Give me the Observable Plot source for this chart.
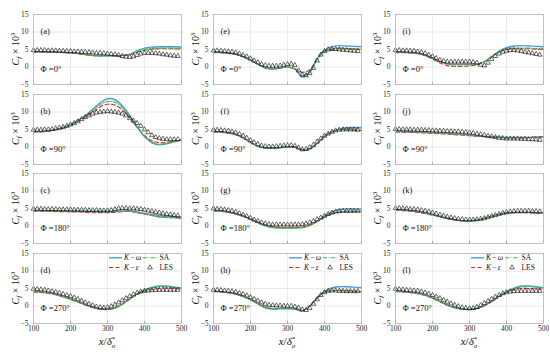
<!DOCTYPE html>
<html><head><meta charset="utf-8">
<script src="https://cdn.jsdelivr.net/npm/d3@7"></script>
<script src="https://cdn.jsdelivr.net/npm/@observablehq/plot@0.6"></script>
<style>
body{margin:0;background:#fff;}
#chart{position:relative;width:550px;height:353px;overflow:hidden;background:#fff;font-family:"Liberation Serif",serif;}
.panel{position:absolute;}
#overlay{position:absolute;left:0;top:0;pointer-events:none;}
</style></head><body><div id="chart"></div>
<script>
// ---------- data ----------
const xLine = [100,120,140,160,180,200,220,240,260,280,300,320,340,360,380,400,420,440,460,480,500];
const xLes  = [100,110,120,130,140,150,160,170,180,190,200,210,220,230,240,250,260,270,280,290,300,310,320,330,340,350,360,370,380,390,400,410,420,430,440,450,460,470,480,490];
const xTicks = [100,200,300,400,500];
const yTicks = [-5,0,5,10,15];
const seriesNames = ["K − ω","K − ε","SA","LES"];
const panelIds = ["a","b","c","d","e","f","g","h","i","j","k","l"];
const phiLabels = ["0°","90°","180°","270°"];

// (a) Phi=0, column 1
const a_kw = [4.4,4.4,4.3,4.3,4.2,4.1,3.9,3.6,3.3,3.2,3.2,3.2,3.3,3.6,4.6,5.4,5.7,5.8,5.8,5.8,5.7];
const a_ke = [4.2,4.2,4.2,4.2,4.1,4.0,3.8,3.5,3.3,3.2,3.2,3.2,3.3,3.5,4.2,4.8,5.1,5.2,5.2,5.2,5.1];
const a_sa = [4.3,4.3,4.3,4.2,4.1,4.0,3.8,3.5,3.3,3.2,3.2,3.2,3.3,3.6,4.4,5.0,5.3,5.4,5.4,5.4,5.3];
const a_les = [4.8,4.8,4.8,4.8,4.7,4.7,4.7,4.6,4.6,4.5,4.5,4.4,4.4,4.3,4.3,4.2,4.1,4.0,4.0,3.9,3.8,3.7,3.6,3.4,3.1,2.9,2.8,3.0,3.4,3.8,4.0,4.0,4.0,3.9,3.8,3.6,3.5,3.3,3.2,3.1];
// (b) Phi=90, column 1
const b_kw = [4.4,4.4,4.6,5.0,5.6,6.4,7.6,9.0,10.8,12.6,13.8,13.5,11.8,9.0,5.8,3.0,1.2,0.6,0.9,1.5,2.0];
const b_ke = [4.3,4.3,4.5,4.9,5.4,6.2,7.3,8.5,10.0,11.4,12.2,12.0,10.6,8.3,5.6,3.3,1.8,1.2,1.3,1.7,2.0];
const b_sa = [4.3,4.4,4.6,5.0,5.5,6.3,7.5,8.8,10.4,12.0,13.0,12.8,11.2,8.7,5.7,3.1,1.4,0.8,1.0,1.6,2.0];
const b_les = [4.9,4.9,4.9,5.0,5.0,5.1,5.3,5.5,5.7,6.0,6.4,6.8,7.3,7.9,8.5,9.0,9.5,9.8,10.0,10.1,10.2,10.1,10.0,9.8,9.5,9.0,8.2,7.5,6.8,6.0,5.0,4.2,3.3,2.8,2.5,2.3,2.2,2.2,2.2,2.2];
// (c) Phi=180, column 1
const c_kw = [4.4,4.4,4.4,4.4,4.3,4.3,4.3,4.2,4.2,4.2,4.2,4.2,4.3,4.3,4.0,3.6,3.3,3.0,2.8,2.7,2.6];
const c_ke = [4.2,4.2,4.2,4.1,4.1,4.0,4.0,3.9,3.8,3.8,3.8,3.9,4.1,4.2,3.8,3.4,3.0,2.6,2.5,2.4,2.3];
const c_sa = [4.3,4.3,4.3,4.3,4.2,4.2,4.2,4.1,4.1,4.0,4.0,4.1,4.2,4.2,3.9,3.4,3.0,2.6,2.4,2.3,2.1];
const c_les = [4.9,4.9,4.9,4.8,4.8,4.8,4.8,4.7,4.7,4.7,4.7,4.6,4.6,4.6,4.6,4.5,4.5,4.5,4.4,4.4,4.4,4.5,4.8,5.0,5.1,5.1,5.0,5.0,4.9,4.8,4.6,4.4,4.2,4.0,3.8,3.6,3.4,3.3,3.1,3.0];
// (d) Phi=270, column 1
const d_kw = [4.1,4.0,3.7,3.3,2.7,2.0,1.2,0.4,-0.4,-0.9,-1.0,-0.6,0.5,2.0,3.5,4.6,5.3,5.7,5.7,5.4,5.1];
const d_ke = [4.0,3.9,3.6,3.2,2.6,1.9,1.1,0.3,-0.4,-0.9,-1.0,-0.6,0.5,1.9,3.3,4.2,4.7,5.0,5.1,5.0,4.8];
const d_sa = [4.1,4.0,3.7,3.3,2.7,2.0,1.2,0.4,-0.3,-0.8,-0.9,-0.5,0.6,2.0,3.4,4.5,5.2,5.5,5.5,5.3,5.1];
const d_les = [4.9,4.8,4.7,4.6,4.4,4.2,4.0,3.7,3.4,3.1,2.8,2.4,2.0,1.5,1.0,0.6,0.2,-0.2,-0.4,-0.5,-0.4,-0.1,0.4,1.0,1.6,2.2,2.8,3.3,3.8,4.1,4.3,4.4,4.5,4.6,4.6,4.6,4.6,4.6,4.6,4.6];
// (e) Phi=0, column 2
const e_kw = [4.2,4.2,4.0,3.7,3.0,2.0,0.8,-0.3,-0.6,-0.3,0.0,-0.6,-2.9,-1.6,2.2,4.8,5.8,6.1,6.0,5.9,5.8];
const e_ke = [4.1,4.1,3.9,3.6,2.9,1.9,0.8,-0.2,-0.5,-0.3,0.0,-0.5,-1.5,-0.8,2.4,4.4,5.0,5.2,5.2,5.1,5.0];
const e_sa = [4.2,4.1,3.9,3.6,2.9,2.0,0.8,-0.3,-0.5,-0.3,0.0,-0.6,-2.4,-1.3,2.3,4.6,5.2,5.4,5.3,5.2,5.1];
const e_les = [4.7,4.7,4.6,4.5,4.4,4.3,4.1,3.8,3.4,3.0,2.4,1.8,1.3,0.8,0.5,0.3,0.3,0.3,0.4,0.6,0.8,0.9,0.5,-1.0,-2.2,-2.4,-1.8,-0.3,1.8,3.5,4.5,5.0,5.1,5.1,5.0,4.9,4.8,4.7,4.6,4.5];
// (f) Phi=90, column 2
const f_kw = [4.4,4.3,4.0,3.6,2.6,1.3,0.2,-0.3,-0.3,-0.2,0.0,0.0,-0.9,-0.6,1.0,3.0,4.4,5.1,5.5,5.6,5.6];
const f_ke = [4.3,4.2,3.9,3.5,2.6,1.3,0.2,-0.3,-0.3,-0.2,0.0,0.0,-0.8,-0.5,1.1,3.1,4.3,4.9,5.0,4.8,4.7];
const f_sa = [4.4,4.3,4.0,3.5,2.6,1.3,0.2,-0.3,-0.3,-0.2,0.0,0.0,-0.9,-0.6,1.0,3.0,4.3,4.9,5.2,5.2,5.2];
const f_les = [4.9,4.9,4.8,4.7,4.6,4.4,4.1,3.7,3.2,2.6,1.9,1.3,0.8,0.4,0.2,0.1,0.1,0.2,0.3,0.4,0.5,0.5,0.3,-0.2,-0.7,-0.6,-0.1,0.6,1.5,2.4,3.2,3.8,4.3,4.7,4.9,5.0,5.0,5.0,5.0,4.9];
// (g) Phi=180, column 2
const g_kw = [4.4,4.3,4.0,3.5,2.9,2.0,1.0,0.1,-0.4,-0.5,-0.5,-0.5,-0.4,0.2,1.3,2.8,4.0,4.7,4.9,4.9,4.8];
const g_ke = [4.3,4.2,3.9,3.5,2.9,2.0,1.1,0.3,-0.2,-0.4,-0.4,-0.4,-0.3,0.3,1.4,2.6,3.5,4.0,4.2,4.2,4.2];
const g_sa = [4.3,4.2,3.9,3.4,2.8,1.9,0.9,0.0,-0.5,-0.6,-0.6,-0.6,-0.5,0.1,1.2,2.5,3.5,4.0,4.2,4.2,4.1];
const g_les = [5.0,4.9,4.8,4.7,4.5,4.3,4.0,3.6,3.2,2.8,2.3,1.8,1.4,1.0,0.7,0.5,0.4,0.4,0.4,0.4,0.4,0.4,0.4,0.4,0.5,0.7,1.0,1.4,1.9,2.4,2.9,3.4,3.8,4.1,4.2,4.3,4.3,4.3,4.3,4.3];
// (h) Phi=270, column 2
const h_kw = [4.2,4.1,3.8,3.4,2.7,1.8,0.6,-0.5,-0.9,-0.8,-0.8,-0.9,-1.4,0.0,2.2,4.2,5.2,5.5,5.5,5.4,5.2];
const h_ke = [4.1,4.0,3.8,3.4,2.7,1.8,0.7,-0.3,-0.7,-0.7,-0.7,-0.8,-1.3,0.1,2.4,4.0,4.4,4.4,4.3,4.2,4.1];
const h_sa = [4.2,4.1,3.8,3.4,2.7,1.8,0.7,-0.3,-0.7,-0.7,-0.7,-0.8,-1.3,0.0,2.2,3.9,4.4,4.5,4.4,4.3,4.2];
const h_les = [4.6,4.6,4.5,4.4,4.3,4.2,4.0,3.7,3.4,3.0,2.5,2.0,1.5,1.0,0.6,0.3,0.2,0.1,0.1,0.0,0.0,0.0,-0.2,-0.5,-1.0,-1.2,-0.6,0.6,1.9,3.1,3.9,4.3,4.4,4.4,4.3,4.3,4.2,4.2,4.2,4.2];
// (i) Phi=0, column 3
const i_kw = [4.2,4.2,4.1,3.9,3.4,2.6,1.6,0.9,0.7,0.7,0.7,0.8,1.5,3.0,4.5,5.5,6.0,6.1,6.0,5.9,5.8];
const i_ke = [4.1,4.1,4.0,3.8,3.2,2.3,1.2,0.4,0.2,0.2,0.3,0.6,1.5,3.0,4.3,5.0,5.2,5.2,5.2,5.1,5.0];
const i_sa = [4.2,4.2,4.1,3.9,3.4,2.6,1.6,0.9,0.7,0.7,0.7,0.8,1.5,3.0,4.4,5.1,5.4,5.4,5.4,5.3,5.3];
const i_les = [4.8,4.8,4.7,4.7,4.6,4.6,4.4,4.2,3.9,3.5,3.0,2.5,2.0,1.7,1.5,1.5,1.5,1.5,1.5,1.5,1.5,1.4,1.2,0.6,0.4,1.2,2.2,3.1,3.8,4.3,4.6,4.8,4.8,4.7,4.5,4.3,4.1,3.9,3.7,3.5];
// (j) Phi=90, column 3
const j_kw = [4.4,4.4,4.3,4.3,4.2,4.1,4.0,3.9,3.7,3.6,3.4,3.2,3.0,2.9,2.8,2.7,2.7,2.7,2.7,2.8,2.8];
const j_ke = [4.3,4.2,4.2,4.1,4.0,3.9,3.8,3.7,3.5,3.4,3.2,3.1,2.9,2.8,2.7,2.6,2.6,2.6,2.7,2.9,3.0];
const j_sa = [4.4,4.4,4.3,4.3,4.2,4.1,4.0,3.9,3.7,3.6,3.4,3.2,3.0,2.9,2.8,2.7,2.7,2.7,2.7,2.8,2.8];
const j_les = [5.1,5.1,5.0,5.0,5.0,4.9,4.9,4.9,4.8,4.8,4.7,4.7,4.6,4.6,4.5,4.5,4.4,4.4,4.3,4.2,4.1,4.0,3.8,3.6,3.4,3.2,3.0,2.8,2.6,2.5,2.4,2.4,2.4,2.4,2.3,2.3,2.2,2.2,2.1,2.0];
// (k) Phi=180, column 3
const k_kw = [4.7,4.6,4.4,4.1,3.7,3.2,2.7,2.2,1.8,1.5,1.5,1.7,2.2,2.8,3.4,3.8,3.9,3.9,3.9,3.8,3.8];
const k_ke = [4.6,4.4,4.2,3.9,3.5,3.1,2.6,2.1,1.7,1.5,1.5,1.7,2.2,2.8,3.3,3.7,3.8,3.8,3.8,3.7,3.7];
const k_sa = [4.7,4.5,4.3,4.0,3.6,3.2,2.7,2.2,1.8,1.5,1.5,1.7,2.2,2.8,3.3,3.7,3.8,3.8,3.8,3.8,3.7];
const k_les = [5.1,5.1,5.0,5.0,4.9,4.8,4.7,4.5,4.3,4.1,3.8,3.5,3.2,2.9,2.6,2.4,2.2,2.0,1.9,1.8,1.8,1.8,1.9,2.0,2.2,2.5,2.8,3.1,3.4,3.7,3.9,4.1,4.2,4.3,4.3,4.3,4.3,4.2,4.2,4.1];
// (l) Phi=270, column 3
const l_kw = [4.2,4.1,3.9,3.6,3.1,2.3,1.3,0.3,-0.5,-0.9,-1.0,-0.7,0.1,1.3,2.8,4.1,5.1,5.7,5.7,5.5,5.2];
const l_ke = [4.1,4.0,3.8,3.5,3.0,2.2,1.2,0.2,-0.5,-0.9,-1.0,-0.7,0.1,1.3,2.7,3.9,4.6,5.0,5.0,4.9,4.8];
const l_sa = [4.2,4.1,3.9,3.6,3.1,2.3,1.3,0.3,-0.4,-0.8,-0.9,-0.6,0.2,1.4,2.8,4.0,4.9,5.4,5.5,5.4,5.2];
const l_les = [4.9,4.8,4.7,4.6,4.5,4.4,4.3,4.1,3.8,3.5,3.1,2.7,2.2,1.7,1.2,0.7,0.3,-0.1,-0.4,-0.6,-0.7,-0.6,-0.3,0.2,0.8,1.4,2.0,2.6,3.1,3.6,3.9,4.1,4.2,4.3,4.3,4.3,4.3,4.3,4.3,4.3];

const panelData = {
  a:[a_kw,a_ke,a_sa,a_les], b:[b_kw,b_ke,b_sa,b_les], c:[c_kw,c_ke,c_sa,c_les], d:[d_kw,d_ke,d_sa,d_les],
  e:[e_kw,e_ke,e_sa,e_les], f:[f_kw,f_ke,f_sa,f_les], g:[g_kw,g_ke,g_sa,g_les], h:[h_kw,h_ke,h_sa,h_les],
  i:[i_kw,i_ke,i_sa,i_les], j:[j_kw,j_ke,j_sa,j_les], k:[k_kw,k_ke,k_sa,k_les], l:[l_kw,l_ke,l_sa,l_les]
};

// ---------- styles / layout ----------
const FONT = "Liberation Serif";
const colors = {kw:"#4d9ad8", ke:"#e8232a", sa:"#3cb84a", les:"#1a1a1a"};
const W = 148, H = 70;
const colLeft = [33, 213, 395];
const rowTop = [14, 93.5, 173, 253];
const mL = 30, mR = 3, mT = 3, mB = 3, mBlast = 14;

const chart = document.getElementById("chart");

panelIds.forEach((id, idx) => {
  const col = Math.floor(idx / 4), row = idx % 4;
  const last = row === 3;
  const [kw, ke, sa, les] = panelData[id];
  const lines = [];
  xLine.forEach((x, i) => {
    lines.push({x, y: kw[i], s: "kw"});
    lines.push({x, y: ke[i], s: "ke"});
    lines.push({x, y: sa[i], s: "sa"});
  });
  const lesData = xLes.map((x, i) => ({x, y: les[i]}));
  const mb = last ? mBlast : mB;
  const p = Plot.plot({
    width: mL + W + mR, height: mT + H + mb,
    marginLeft: mL, marginRight: mR, marginTop: mT, marginBottom: mb,
    style: {fontFamily: FONT, fontSize: "7.5px", background: "transparent", color: "#262626", overflow: "visible"},
    x: {domain: [100, 500], label: null, axis: null},
    y: {domain: [-5, 15], label: null, axis: null},
    marks: [
      Plot.gridX(xTicks, {stroke: "#e3e3e3", strokeOpacity: 1, strokeWidth: 0.8}),
      Plot.gridY(yTicks, {stroke: "#e3e3e3", strokeOpacity: 1, strokeWidth: 0.8}),
      Plot.axisY(yTicks, {tickSize: 0, tickPadding: 5, label: null, fill: "#262626"}),
      last ? Plot.axisX(xTicks, {tickSize: 0, tickPadding: 2, label: null, fill: "#262626"}) : null,
      Plot.ruleX(xTicks, {y1: -5, y2: -4.4, stroke: "#777", strokeWidth: 0.6}),
      Plot.ruleY(yTicks, {x1: 100, x2: 103.5, stroke: "#777", strokeWidth: 0.6}),
      Plot.line(lines.filter(d => d.s === "kw"), {x: "x", y: "y", stroke: colors.kw, strokeWidth: 1.4, curve: "catmull-rom"}),
      Plot.line(lines.filter(d => d.s === "ke"), {x: "x", y: "y", stroke: colors.ke, strokeWidth: 1.1, strokeDasharray: "4,2.5", curve: "catmull-rom"}),
      Plot.line(lines.filter(d => d.s === "sa"), {x: "x", y: "y", stroke: colors.sa, strokeWidth: 1.1, strokeDasharray: "4,1.5,1,1.5", curve: "catmull-rom"}),
      Plot.dot(lesData, {x: "x", y: "y", symbol: "triangle", r: 1.75, stroke: colors.les, fill: "none", strokeWidth: 0.65}),
      Plot.frame({stroke: "#b5b5b5", strokeWidth: 0.8}),
      Plot.text([`(${id})`], {frameAnchor: "top-left", dx: 7, dy: 13, fontSize: 8.5, fill: "#111", textAnchor: "start"}),
      Plot.text([`Φ =${phiLabels[row]}`], {frameAnchor: "bottom-left", dx: 7, dy: -13, fontSize: 8.5, fill: "#111", textAnchor: "start"})
    ]
  });
  const div = document.createElement("div");
  div.className = "panel";
  div.style.left = (colLeft[col] - mL) + "px";
  div.style.top = (rowTop[row] - mT) + "px";
  div.appendChild(p);
  chart.appendChild(div);
});

// ---------- overlay: axis titles and legends ----------
const ov = d3.select(chart).append("svg").attr("id", "overlay").attr("width", 550).attr("height", 353)
  .style("font-family", FONT);

colLeft.forEach((cl, c) => {
  // y titles for each panel
  rowTop.forEach(rt => {
    const t = ov.append("text").attr("transform", `translate(${cl - 18},${rt + H / 2}) rotate(-90)`)
      .attr("text-anchor", "middle").attr("dy", "0.35em").style("font-size", "10px").attr("fill", "#111");
    t.append("tspan").attr("font-style", "italic").text("C");
    t.append("tspan").attr("font-style", "italic").style("font-size", "7px").attr("dy", 2).text("f");
    t.append("tspan").attr("dy", -2).text(" × 10");
    t.append("tspan").style("font-size", "7px").attr("dy", -4).text("3");
  });
  // x title
  const xt = ov.append("text").attr("x", cl + W / 2).attr("y", 345).attr("text-anchor", "middle")
    .style("font-size", "11px").attr("fill", "#111");
  xt.append("tspan").attr("font-style", "italic").text("x");
  xt.append("tspan").text("/");
  xt.append("tspan").attr("font-style", "italic").text("δ");
  xt.append("tspan").style("font-size", "7px").attr("dy", -4).text("*");
  xt.append("tspan").attr("font-style", "italic").style("font-size", "7px").attr("dx", -3.5).attr("dy", 7).text("o");

  // legend in bottom panel
  const g = ov.append("g").attr("transform", `translate(${cl},${rowTop[3]})`).style("font-size", "7.5px");
  const r1 = 4.8, r2 = 14.5;
  g.append("line").attr("x1", 76).attr("x2", 89).attr("y1", r1).attr("y2", r1).attr("stroke", colors.kw).attr("stroke-width", 1.4);
  g.append("line").attr("x1", 76).attr("x2", 89).attr("y1", r2).attr("y2", r2).attr("stroke", colors.ke).attr("stroke-width", 1.1).attr("stroke-dasharray", "4,2.5");
  g.append("line").attr("x1", 110).attr("x2", 124).attr("y1", r1).attr("y2", r1).attr("stroke", colors.sa).attr("stroke-width", 1.1).attr("stroke-dasharray", "4,1.5,1,1.5");
  g.append("path").attr("d", d3.symbol(d3.symbolTriangle, Math.PI * 1.75 * 1.75)()).attr("transform", `translate(117,${r2})`)
    .attr("fill", "none").attr("stroke", colors.les).attr("stroke-width", 0.65);
  const names = [[seriesNames[0], 91, r1], [seriesNames[1], 91, r2], [seriesNames[2], 126.5, r1], [seriesNames[3], 126.5, r2]];
  names.forEach(([n, x, y]) => {
    const t = g.append("text").attr("x", x).attr("y", y).attr("dy", "0.32em").attr("fill", "#111");
    if (n.startsWith("K")) {
      const parts = n.split(" ");
      t.append("tspan").attr("font-style", "italic").text(parts[0]);
      t.append("tspan").attr("dx", 1.2).text(parts[1]);
      t.append("tspan").attr("dx", 1.2).attr("font-style", "italic").text(parts[2]);
    } else t.text(n);
  });
});
</script>
</body></html>
